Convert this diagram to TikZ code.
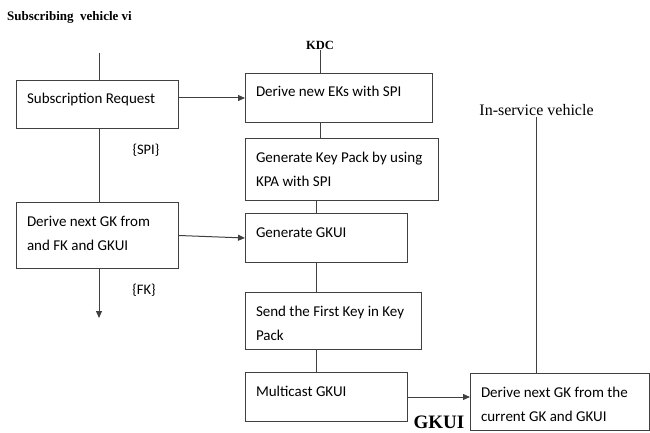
\documentclass[tikz,border=0pt]{standalone}
\usepackage{fontspec}
\setmainfont{Liberation Serif}
\newfontfamily\boxfont{Carlito}
\usetikzlibrary{arrows.meta}
\definecolor{lncol}{HTML}{404040}
\newcommand\boxtxt[3]{\parbox[c][#2][t]{#1}{\boxfont\fontsize{15}{24.5}\selectfont\raggedright\leftskip=10.5pt\rule{0pt}{23.5pt}#3}}
\tikzset{
  box/.style={draw=lncol, line width=1pt, inner sep=0pt, anchor=north west, fill=white},
  ln/.style={draw=lncol, line width=1pt},
  arr/.style={ln, -{Triangle[length=7pt,width=6pt]}},
  lbl/.style={inner sep=1pt, font=\boxfont\fontsize{14.5}{17}\selectfont},
}
\begin{document}
\begin{tikzpicture}[x=1pt,y=-1pt]
\useasboundingbox (0,0) rectangle (650,433);
% titles
\node[inner sep=1pt, font=\bfseries\fontsize{13}{15}\selectfont] (title) at (69.5,17) {Subscribing\ \ vehicle vi};
\node[inner sep=1pt, font=\bfseries\fontsize{12.5}{14}\selectfont] (kdc) at (320,45) {KDC};
\node[inner sep=1pt, font=\fontsize{16}{18}\selectfont] (isv) at (536.5,110) {In-service vehicle};
% left column
\node[box] (b1) at (16,80) {\boxtxt{162pt}{48pt}{Subscription Request}};
\node[box] (b2) at (16,202) {\boxtxt{162pt}{66pt}{Derive next GK from\\and FK and GKUI}};
% KDC column
\node[box] (d1) at (245,73) {\boxtxt{187pt}{49pt}{Derive new EKs with SPI}};
\node[box] (d2) at (245,138) {\boxtxt{193pt}{62pt}{Generate Key Pack by using\\KPA with SPI}};
\node[box] (d3) at (245,213) {\boxtxt{162pt}{49pt}{Generate GKUI}};
\node[box] (d4) at (245,292) {\boxtxt{176pt}{57pt}{Send the First Key in Key\\Pack}};
\node[box] (d5) at (245,372) {\boxtxt{162pt}{49pt}{Multicast GKUI}};
% in-service
\node[box] (is) at (470,373) {\boxtxt{179pt}{57pt}{Derive next GK from the\\current GK and GKUI}};
% labels
\node[lbl] (spi) at (146,150) {\{SPI\}};
\node[lbl] (fk) at (144,290) {\{FK\}};
\node[inner sep=1pt, font=\bfseries\fontsize{19}{21}\selectfont] (gkui) at (439,422) {GKUI};
% left connectors
\coordinate (t1) at (99,53);
\coordinate (e1) at (99,318);
\draw[ln] (t1) -- (t1 |- b1.north);
\draw[ln] (t1 |- b1.south) -- (t1 |- b2.north);
\draw[arr] (t1 |- b2.south) -- (e1);
\draw[arr] (b1.east |- d1.west) -- (d1.west);
\draw[arr] (b2.east) -- (d3.west);
% KDC connectors
\draw[ln] (kdc.south) -- (kdc.south |- d1.north);
\draw[ln] (kdc.south |- d1.south) -- (kdc.south |- d2.north);
\coordinate (sp) at (316,0);
\draw[ln] (sp |- d2.south) -- (sp |- d3.north);
\draw[ln] (sp |- d3.south) -- (sp |- d4.north);
\draw[ln] (sp |- d4.south) -- (sp |- d5.north);
\draw[arr] (d5.east) -- (d5.east -| is.west);
% in-service
\draw[ln] (isv.south) -- (isv.south |- is.north);
\end{tikzpicture}
\end{document}
